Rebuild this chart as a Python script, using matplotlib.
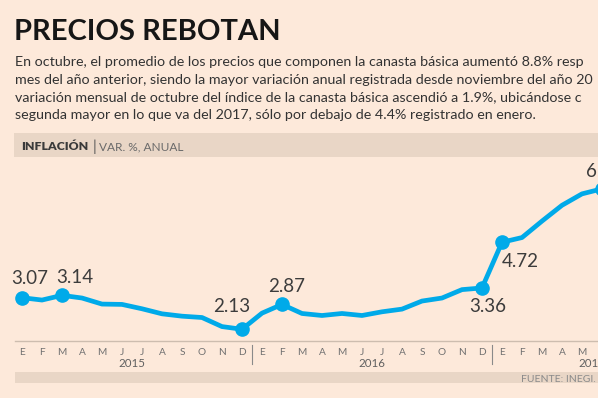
import matplotlib
matplotlib.use('Agg')
import matplotlib.pyplot as plt
from matplotlib.patches import Rectangle

# monthly annual inflation (%), Jan 2015 - Jun 2017
months = ['E', 'F', 'M', 'A', 'M', 'J', 'J', 'A', 'S', 'O', 'N', 'D']
years = ['2015', '2016', '2017']
inflation = [3.07, 3.00, 3.14, 3.06, 2.88, 2.87, 2.74, 2.59, 2.52, 2.48, 2.21, 2.13,
             2.61, 2.87, 2.60, 2.54, 2.60, 2.54, 2.65, 2.73, 2.97, 3.06, 3.31, 3.36,
             4.72, 4.86, 5.35, 5.82, 6.16, 6.31]
highlight = [0, 2, 11, 13, 23, 24, 29]

title = 'PRECIOS REBOTAN'
# the reference crops the paragraph at its right edge
body = [
    'En octubre, el promedio de los precios que componen la canasta básica aumentó 8.8% resp',
    'mes del año anterior, siendo la mayor variación anual registrada desde noviembre del año 20',
    'variación mensual de octubre del índice de la canasta básica ascendió a 1.9%, ubicándose c',
    'segunda mayor en lo que va del 2017, sólo por debajo de 4.4% registrado en enero.',
]

W, H = 598, 398
bg = '#FDE9DA'
band = '#E9D6C6'
blue = '#00AAE9'

# label offsets in pixels from each highlighted point
offsets = {0: (8, 14), 2: (13, 12), 11: (-10, 17), 13: (5, 12),
           23: (6, -24), 24: (18, -25), 29: (3, 12)}


def fx(x):
    return x / W


def fy(y):
    return 1 - y / H


fig = plt.figure(figsize=(W / 100, H / 100), dpi=100, facecolor=bg)

fig.text(fx(14), fy(40), title, family='Lato', weight='bold', size=21,
         color='#161616', va='baseline')
for k, line in enumerate(body):
    fig.text(fx(15), fy(66.5 + 17.4 * k), line, family='Lato', size=10.3,
             color='#333333', va='baseline')

# header band
fig.patches.append(Rectangle((fx(14), fy(157)), 1, 24 / H, transform=fig.transFigure,
                             facecolor=band, edgecolor='none'))
fig.text(fx(21), fy(150.5), 'INFLACIÓN', family='Lato', weight='heavy', size=8.8,
         color='#3a3a3a', va='baseline')
fig.text(fx(92.5), fy(151.5), '|', family='Lato', size=11, color='#555555', va='baseline')
fig.text(fx(99), fy(150.5), 'VAR. %, ANUAL', family='Lato', size=8.6,
         color='#6a6a6a', va='baseline')

# footer band
fig.patches.append(Rectangle((fx(15), fy(383)), 1, 11 / H, transform=fig.transFigure,
                             facecolor=band, edgecolor='none'))
fig.text(fx(596), fy(381.5), 'FUENTE: INEGI.', family='Lato', size=7.5,
         color='#8a8a8a', ha='right', va='baseline')

# chart area: month i sits at 22 + 20*i px, axis line at y=341 px
ax = fig.add_axes([0, fy(341), 1, (341 - 160) / H])
ax.set_facecolor('none')
x = list(range(len(inflation)))
ax.plot(x, inflation, color=blue, lw=3.4, solid_joinstyle='round',
        solid_capstyle='round', clip_on=False, zorder=3)
ax.plot([x[i] for i in highlight], [inflation[i] for i in highlight], 'o',
        color=blue, ms=9.5, clip_on=False, zorder=4)
for i in highlight:
    dx, dy = offsets[i]
    ax.annotate(f'{inflation[i]:.2f}', (x[i], inflation[i]), xytext=(dx, dy),
                textcoords='offset pixels', ha='center', va='baseline',
                family='Lato', size=13.5, color='#3c3c3c', annotation_clip=False)

ax.set_xlim(-1.1, 28.8)
ax.set_ylim(1.781, 7.168)
for s in ax.spines.values():
    s.set_visible(False)
ax.axhline(1.781, xmin=15 / W, color='#CDBDAF', lw=1, clip_on=False)

ticks = x[:29]
ax.set_xticks(ticks)
ax.set_xticklabels([months[i % 12] for i in ticks], family='Lato', size=7.3,
                   color='#707070')
ax.tick_params(axis='x', length=0, pad=5)
ax.set_yticks([])

trans = ax.get_xaxis_transform()
for k, yr in enumerate(years):
    start = 12 * k
    end = start + 11 if k < 2 else start + 9
    ax.text((start + end) / 2, -26 / 181, yr, transform=trans, ha='center',
            va='baseline', family='Lato', size=8.3, color='#606060', clip_on=False)
    if k > 0:
        ax.plot([start - 0.5] * 2, [-4 / 181, -23 / 181], transform=trans,
                color='#8a8a8a', lw=0.8, clip_on=False)

fig.savefig('out.png', dpi=100, facecolor=bg)
